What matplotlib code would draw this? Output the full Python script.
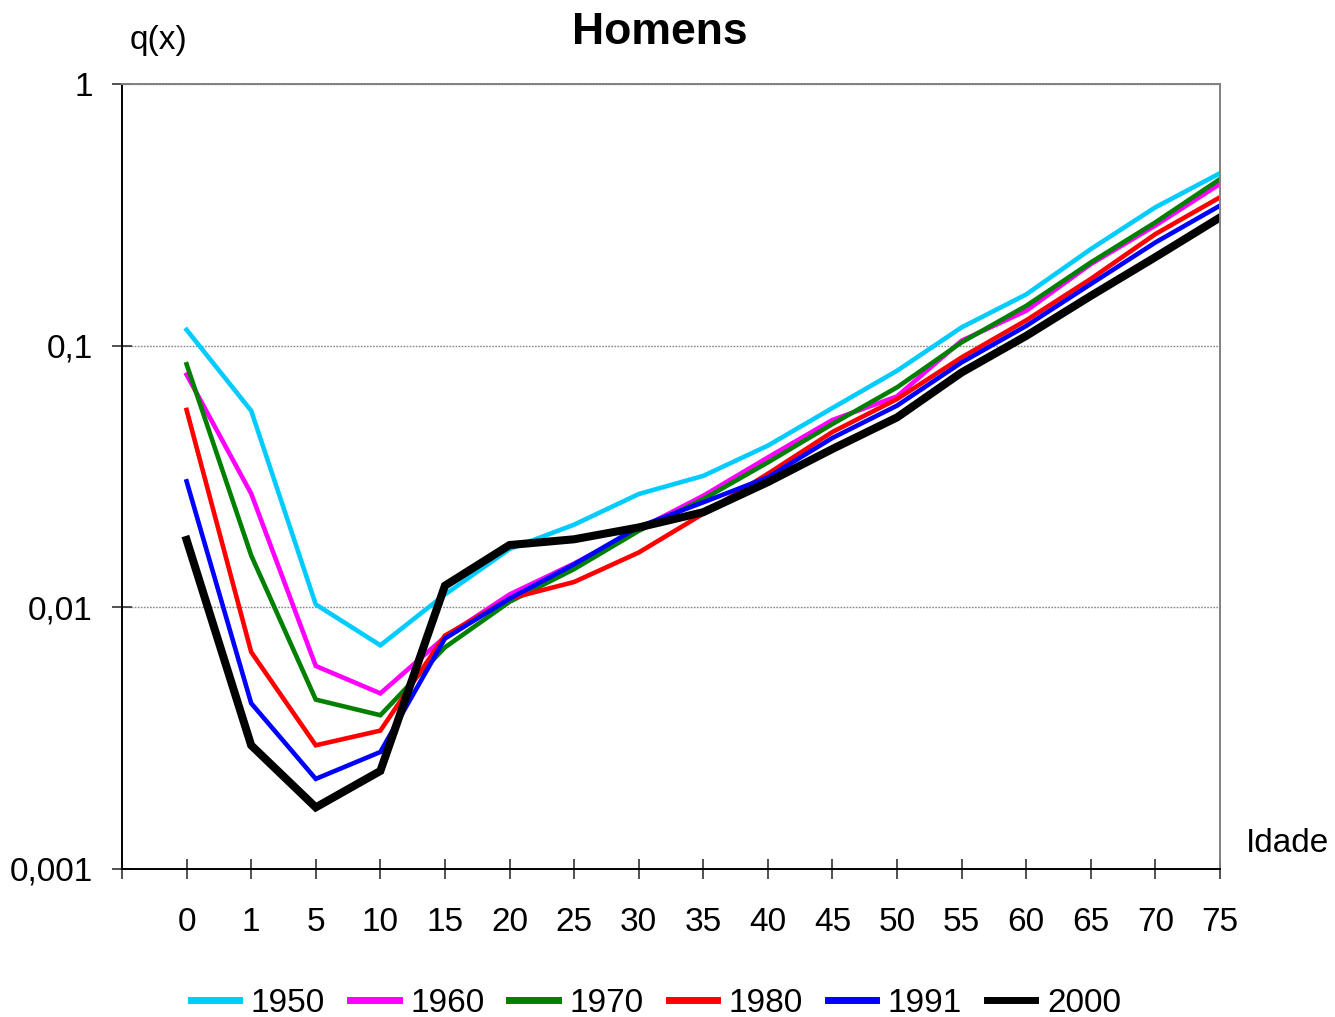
import matplotlib
matplotlib.use("Agg")
import matplotlib.pyplot as plt
from matplotlib.ticker import FixedLocator, NullLocator

plt.rcParams['font.family'] = ['Liberation Sans', 'DejaVu Sans']

ages = ["0", "1", "5", "10", "15", "20", "25", "30", "35", "40",
        "45", "50", "55", "60", "65", "70", "75"]

years = ["1950", "1960", "1970", "1980", "1991", "2000"]

q1950 = [0.115, 0.0564, 0.01026, 0.00716, 0.0112, 0.0167, 0.0207, 0.0271, 0.0318,
         0.0415, 0.0578, 0.0802, 0.1175, 0.157, 0.234, 0.338, 0.456]
q1960 = [0.0775, 0.0272, 0.00597, 0.00469, 0.0077, 0.0112, 0.0147, 0.0199, 0.0267,
         0.0374, 0.052, 0.064, 0.1045, 0.136, 0.205, 0.288, 0.415]
q1970 = [0.0849, 0.0158, 0.00444, 0.00387, 0.00703, 0.0105, 0.014, 0.0196, 0.0259,
         0.0358, 0.0502, 0.0693, 0.103, 0.142, 0.208, 0.296, 0.433]
q1980 = [0.0568, 0.00675, 0.00297, 0.00338, 0.0078, 0.0108, 0.0125, 0.0162, 0.0228,
         0.0324, 0.0468, 0.0625, 0.0902, 0.125, 0.18, 0.267, 0.369]
q1991 = [0.0303, 0.0043, 0.00221, 0.0028, 0.0076, 0.0108, 0.0146, 0.0203, 0.0252,
         0.0314, 0.0444, 0.059, 0.0863, 0.119, 0.172, 0.248, 0.343]
q2000 = [0.0181, 0.00297, 0.00172, 0.00237, 0.0121, 0.0173, 0.0182, 0.0202, 0.0231,
         0.0301, 0.0403, 0.0532, 0.079, 0.109, 0.155, 0.218, 0.309]

series = [q1950, q1960, q1970, q1980, q1991, q2000]
colors = ["#00CCFF", "#FF00FF", "#008000", "#FF0000", "#0000FF", "#000000"]
widths = [3.3, 3.3, 3.3, 3.3, 3.3, 5.8]

yticks = [0.001, 0.01, 0.1, 1]
ytick_labels = ["0,001", "0,01", "0,1", "1"]

W, H = 1335, 1017
fig = plt.figure(figsize=(W / 100, H / 100), dpi=100)
ax = fig.add_axes([122 / W, 1 - 869 / H, (1220 - 122) / W, (869 - 84) / H])

x = list(range(len(ages)))
for yr, vals, c, lw in zip(years, series, colors, widths):
    ax.plot(x, vals, color=c, lw=lw, label=yr, solid_joinstyle='miter')

ax.set_yscale('log')
ax.set_ylim(0.001, 1)
ax.set_xlim(-1, 16)
ax.yaxis.set_major_locator(FixedLocator(yticks))
ax.yaxis.set_minor_locator(NullLocator())
ax.set_yticklabels(ytick_labels)
ax.set_xticks([-1] + x)
ax.set_xticklabels([""] + ages)

ax.grid(axis='y', color='#888888', ls=(0, (1.2, 1)), lw=1.0)
ax.set_axisbelow(True)

ax.tick_params(axis='both', direction='inout', length=14.4, width=1.2,
               color='#333333', labelsize=24, pad=14)
ax.tick_params(axis='x', pad=20)

for s in ['left', 'bottom']:
    ax.spines[s].set_color('black')
    ax.spines[s].set_linewidth(1.4)
for s in ['top', 'right']:
    ax.spines[s].set_color('#808080')
    ax.spines[s].set_linewidth(1.4)

fig.text(660 / W, 1 - 33 / H, "Homens", ha='center', va='center',
         fontsize=32, fontweight='bold')
fig.text(130 / W, 1 - 40 / H, "q(x)", ha='left', va='center', fontsize=24)
fig.text(1246 / W, 1 - 844 / H, "Idade", ha='left', va='center', fontsize=24)

leg = fig.legend(loc='center', bbox_to_anchor=(656 / W, 1 - 1003 / H), ncol=6,
                 frameon=False, fontsize=24, handlelength=1.45,
                 handletextpad=0.35, columnspacing=0.75, borderaxespad=0)
for line in leg.get_lines():
    line.set_linewidth(5)

fig.savefig("out.png", dpi=100)
